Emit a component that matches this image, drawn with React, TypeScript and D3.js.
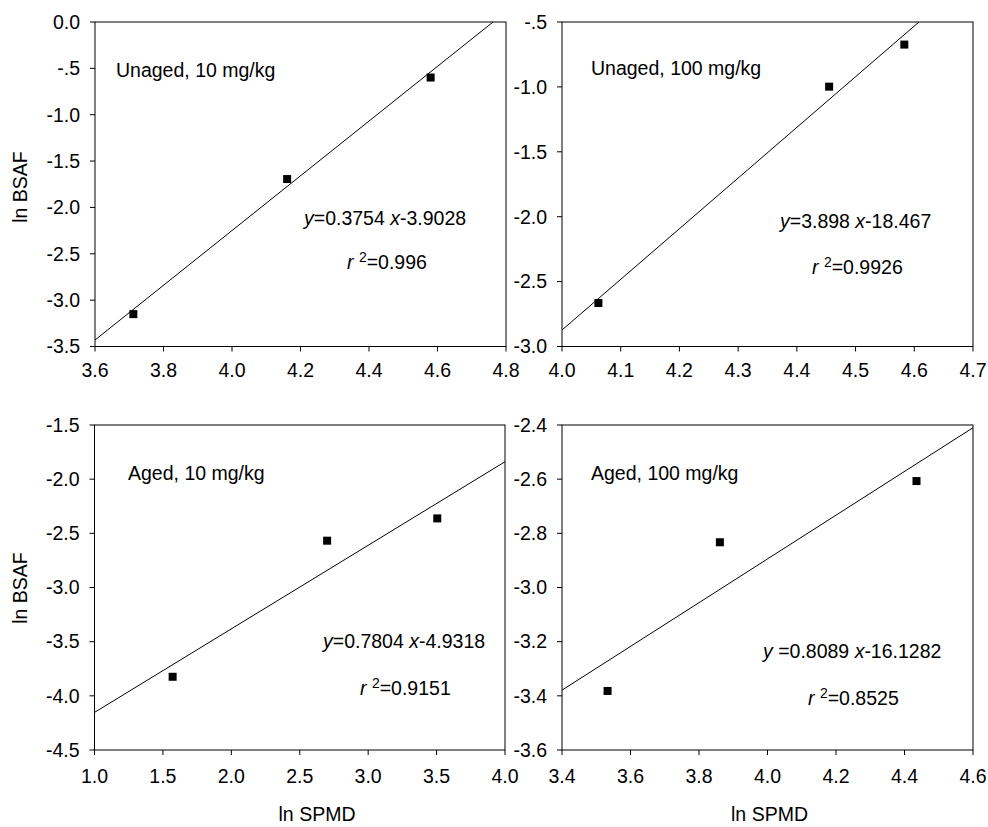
import React from "react";
import * as d3 from "d3";

// ---------- data ----------
const panelTitles = ["Unaged, 10 mg/kg", "Unaged, 100 mg/kg", "Aged, 10 mg/kg", "Aged, 100 mg/kg"];

const xUnaged10 = [3.712, 4.161, 4.58];
const yUnaged10 = [-3.151, -1.694, -0.599];
const xUnaged100 = [4.062, 4.455, 4.583];
const yUnaged100 = [-2.665, -0.998, -0.674];
const xAged10 = [1.571, 2.70, 3.505];
const yAged10 = [-3.824, -2.568, -2.362];
const xAged100 = [3.533, 3.861, 4.435];
const yAged100 = [-3.382, -2.833, -2.607];

// fitted lines, endpoints
const fitUnaged10 = [[3.6, -3.43], [4.762, 0.0]];
const fitUnaged100 = [[4.0, -2.873], [4.608, -0.5]];
const fitAged10 = [[1.0, -4.153], [4.0, -1.839]];
const fitAged100 = [[3.4, -3.379], [4.6, -2.41]];

const slopeTexts = ["0.3754", "3.898", "0.7804", "0.8089"];
const interceptTexts = ["-3.9028", "-18.467", "-4.9318", "-16.1282"];
const r2Texts = ["0.996", "0.9926", "0.9151", "0.8525"];

const xTicksUnaged10 = [3.6, 3.8, 4.0, 4.2, 4.4, 4.6, 4.8];
const yTicksUnaged10 = [0.0, -0.5, -1.0, -1.5, -2.0, -2.5, -3.0, -3.5];
const yLabelsUnaged10 = ["0.0", "-.5", "-1.0", "-1.5", "-2.0", "-2.5", "-3.0", "-3.5"];
const xTicksUnaged100 = [4.0, 4.1, 4.2, 4.3, 4.4, 4.5, 4.6, 4.7];
const yTicksUnaged100 = [-0.5, -1.0, -1.5, -2.0, -2.5, -3.0];
const yLabelsUnaged100 = ["-.5", "-1.0", "-1.5", "-2.0", "-2.5", "-3.0"];
const xTicksAged10 = [1.0, 1.5, 2.0, 2.5, 3.0, 3.5, 4.0];
const yTicksAged10 = [-1.5, -2.0, -2.5, -3.0, -3.5, -4.0, -4.5];
const yLabelsAged10 = ["-1.5", "-2.0", "-2.5", "-3.0", "-3.5", "-4.0", "-4.5"];
const xTicksAged100 = [3.4, 3.6, 3.8, 4.0, 4.2, 4.4, 4.6];
const yTicksAged100 = [-2.4, -2.6, -2.8, -3.0, -3.2, -3.4, -3.6];
const yLabelsAged100 = ["-2.4", "-2.6", "-2.8", "-3.0", "-3.2", "-3.4", "-3.6"];

const yAxisTitle = "ln BSAF";
const xAxisTitle = "ln SPMD";

// ---------- layout (styles) ----------
const FONT = "'Liberation Sans', Arial, Helvetica, sans-serif";
const FS = 19.5;

type Layout = {
  left: number; right: number; top: number; bottom: number;
  titleX: number; titleY: number; eqX: number; eqY: number; r2X: number; r2Y: number;
  xLabelDy: number; eqSpace: boolean;
};

const layouts: Layout[] = [
  { left: 95, right: 506, top: 22, bottom: 346.5, titleX: 116, titleY: 76.5, eqX: 304, eqY: 225, r2X: 347, r2Y: 268.5, xLabelDy: 30, eqSpace: false },
  { left: 562, right: 973, top: 22, bottom: 346.5, titleX: 591, titleY: 75, eqX: 780, eqY: 228, r2X: 812, r2Y: 274, xLabelDy: 30, eqSpace: false },
  { left: 94.5, right: 505, top: 425, bottom: 750, titleX: 128, titleY: 480, eqX: 323, eqY: 648, r2X: 360, r2Y: 695, xLabelDy: 33, eqSpace: false },
  { left: 562, right: 973, top: 425, bottom: 750, titleX: 591, titleY: 480, eqX: 763, eqY: 658, r2X: 808, r2Y: 705, xLabelDy: 33, eqSpace: true },
];

const panelXs = [xUnaged10, xUnaged100, xAged10, xAged100];
const panelYs = [yUnaged10, yUnaged100, yAged10, yAged100];
const panelFits = [fitUnaged10, fitUnaged100, fitAged10, fitAged100];
const panelXTicks = [xTicksUnaged10, xTicksUnaged100, xTicksAged10, xTicksAged100];
const panelYTicks = [yTicksUnaged10, yTicksUnaged100, yTicksAged10, yTicksAged100];
const panelYLabels = [yLabelsUnaged10, yLabelsUnaged100, yLabelsAged10, yLabelsAged100];

function Panel({ i }: { i: number }) {
  const L = layouts[i];
  const xt = panelXTicks[i];
  const yt = panelYTicks[i];
  const x = d3.scaleLinear().domain([xt[0], xt[xt.length - 1]]).range([L.left, L.right]);
  const y = d3.scaleLinear().domain([yt[yt.length - 1], yt[0]]).range([L.bottom, L.top]);
  const line = d3.line<number[]>().x((d) => x(d[0])).y((d) => y(d[1]));
  const fmt = d3.format(".1f");
  const tickLen = 5;
  const clipId = `clip${i}`;
  return (
    <g>
      <defs>
        <clipPath id={clipId}>
          <rect x={L.left} y={L.top} width={L.right - L.left} height={L.bottom - L.top} />
        </clipPath>
      </defs>
      <rect x={L.left} y={L.top} width={L.right - L.left} height={L.bottom - L.top} fill="none" stroke="#000" strokeWidth={1} />
      {xt.map((t, k) => (
        <g key={"xt" + k}>
          <line x1={x(t)} x2={x(t)} y1={L.bottom} y2={L.bottom + tickLen} stroke="#000" />
          <text x={x(t)} y={L.bottom + L.xLabelDy} textAnchor="middle" fontSize={FS} fontFamily={FONT} fill="#000">{fmt(t)}</text>
        </g>
      ))}
      {yt.map((t, k) => (
        <g key={"yt" + k}>
          <line x1={L.left - tickLen} x2={L.left} y1={y(t)} y2={y(t)} stroke="#000" />
          <text x={L.left - 15} y={y(t)} dy="0.35em" textAnchor="end" fontSize={FS} fontFamily={FONT} fill="#000">{panelYLabels[i][k]}</text>
        </g>
      ))}
      <path d={line(panelFits[i]) || ""} fill="none" stroke="#000" strokeWidth={1} clipPath={`url(#${clipId})`} />
      {panelXs[i].map((v, k) => (
        <rect key={"p" + k} x={x(v) - 4} y={y(panelYs[i][k]) - 4} width={8} height={8} fill="#000" />
      ))}
      <text x={L.titleX} y={L.titleY} fontSize={FS} fontFamily={FONT} fill="#000">{panelTitles[i]}</text>
      <text x={L.eqX} y={L.eqY} fontSize={FS} fontFamily={FONT} fill="#000">
        <tspan fontStyle="italic">y</tspan>
        <tspan>{(L.eqSpace ? " " : "") + "=" + slopeTexts[i] + " "}</tspan>
        <tspan fontStyle="italic">x</tspan>
        <tspan>{interceptTexts[i]}</tspan>
      </text>
      <text x={L.r2X} y={L.r2Y} fontSize={FS} fontFamily={FONT} fill="#000">
        <tspan fontStyle="italic">r</tspan>
        <tspan> </tspan>
        <tspan fontSize={14} dy={-7}>2</tspan>
        <tspan dy={7}>{"=" + r2Texts[i]}</tspan>
      </text>
    </g>
  );
}

export default function App() {
  return (
    <svg width={988} height={827} style={{ position: "absolute", left: 0, top: 0, background: "#fff" }}>
      <rect x={0} y={0} width={988} height={827} fill="#fff" />
      {[0, 1, 2, 3].map((i) => (
        <Panel key={i} i={i} />
      ))}
      <text transform="translate(27,187) rotate(-90)" textAnchor="middle" fontSize={FS} fontFamily={FONT} fill="#000">{yAxisTitle}</text>
      <text transform="translate(27,588) rotate(-90)" textAnchor="middle" fontSize={FS} fontFamily={FONT} fill="#000">{yAxisTitle}</text>
      <text x={317} y={821} textAnchor="middle" fontSize={FS} fontFamily={FONT} fill="#000">{xAxisTitle}</text>
      <text x={769.5} y={821} textAnchor="middle" fontSize={FS} fontFamily={FONT} fill="#000">{xAxisTitle}</text>
    </svg>
  );
}
